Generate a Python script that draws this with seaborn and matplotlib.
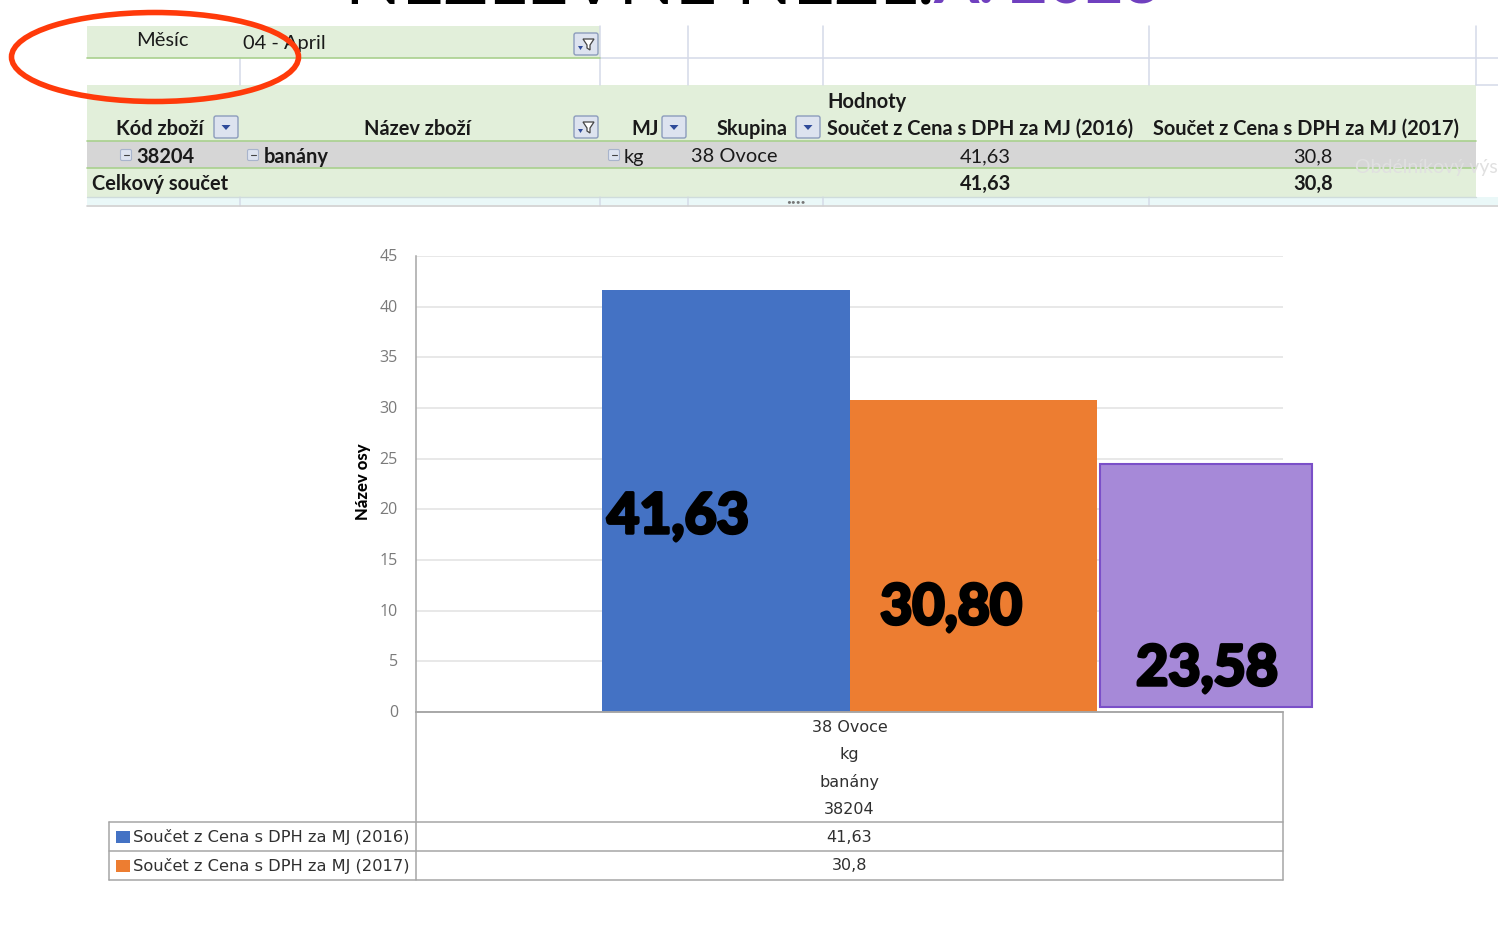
import numpy as np
import pandas as pd
import matplotlib
matplotlib.use('Agg')
import matplotlib.pyplot as plt
import matplotlib.patheffects as pe
from matplotlib.transforms import ScaledTranslation
from matplotlib.patches import Ellipse, FancyBboxPatch, Rectangle, Polygon
import seaborn as sns

# chart values
serie = ['Součet z Cena s DPH za MJ (2016)', 'Součet z Cena s DPH za MJ (2017)']
ceny = [41.63, 30.8]
skupina = '38 Ovoce'
cena_2018 = [23.58]
y_ticks = [0, 5, 10, 15, 20, 25, 30, 35, 40, 45]
osa_x = ['38 Ovoce', 'kg', 'banány', '38204']
tabulka = ['41,63', '30,8']
popisky = ['41,63', '30,80', '23,58']

W, H = 1498, 938
modra, oranz, fialova = '#4472C4', '#ED7D31', '#A689D8'

sns.set_theme(style='white')
plt.rcParams['font.family'] = ['Lato', 'DejaVu Sans']
txt = '#1a1a1a'

fig = plt.figure(figsize=(W / 100, H / 100), dpi=100, facecolor='white')


def ax_px(l, t, r, b, **kw):
    return fig.add_axes([l / W, 1 - b / H, (r - l) / W, (b - t) / H], **kw)


# background layer in pixels of the picture, for the pasted pivot table
bg = ax_px(0, 0, W, H, zorder=0)
bg.set_xlim(0, W)
bg.set_ylim(H, 0)
bg.axis('off')

mriz = '#D5DAE8'
for x, y0, y1 in [(240, 58, 85), (600, 26, 85), (688, 26, 85), (823, 26, 85), (1149, 26, 85), (1476, 26, 85),
                  (240, 197, 206), (600, 197, 206), (688, 197, 206), (823, 197, 206), (1149, 197, 206)]:
    bg.plot([x, x], [y0, y1], color=mriz, lw=1.1)
bg.plot([600, W], [58, 58], color=mriz, lw=1.1)
bg.plot([1476, W], [85, 85], color=mriz, lw=1.1)
bg.add_patch(Rectangle((87, 197), W - 87, 8, color='#EAF8F8', lw=0))
bg.add_patch(Rectangle((87, 26), 513, 32, color='#E2EFDA', lw=0))
bg.add_patch(Rectangle((87, 85), 1389, 56, color='#E2EFDA', lw=0))
bg.add_patch(Rectangle((87, 141), 1389, 27, color='#D6D6D6', lw=0))
bg.add_patch(Rectangle((87, 168), 1389, 29, color='#E2EFDA', lw=0))
for y, x1 in [(58, 600), (141, 1476), (168, 1476)]:
    bg.plot([87, x1], [y, y], color='#A9D08E', lw=1.2)
bg.plot([87, W], [206, 206], color='#D0D0D0', lw=1.2)
bg.plot([87, 1476], [197.5, 197.5], color='#CFDCDC', lw=1)


def tlacitko(x, y, w, h, filtr=False):
    bg.add_patch(FancyBboxPatch((x + 1, y + 1), w - 2, h - 2, boxstyle='round,pad=1,rounding_size=2',
                                fc='#DDE3EF', ec='#8C9CBC', lw=1))
    if filtr:
        bg.add_patch(Polygon([[x + w - 15, y + 6], [x + w - 4, y + 6], [x + w - 8, y + 12], [x + w - 8, y + h - 5],
                              [x + w - 11, y + h - 7], [x + w - 11, y + 12]], fc='white', ec='#444444', lw=0.9))
        bg.add_patch(Polygon([[x + 4, y + h - 9], [x + 9, y + h - 9], [x + 6.5, y + h - 5]], fc='#2F4B9A', lw=0))
    else:
        bg.add_patch(Polygon([[x + w / 2 - 4.5, y + h / 2 - 2], [x + w / 2 + 4.5, y + h / 2 - 2],
                              [x + w / 2, y + h / 2 + 3]], fc='#2F4B9A', lw=0))


tlacitko(574, 33, 24, 22, True)
tlacitko(214, 116, 24, 22)
tlacitko(574, 116, 24, 22, True)
tlacitko(662, 116, 24, 22)
tlacitko(796, 116, 24, 22)


def minus(x, y):
    bg.add_patch(FancyBboxPatch((x, y), 10, 10, boxstyle='round,pad=0.5,rounding_size=1.5',
                                fc='#DDE3EF', ec='#A8B4CC', lw=0.8))
    bg.plot([x + 2.5, x + 7.5], [y + 5, y + 5], color='#444444', lw=0.8)


minus(121, 150)
minus(248, 150)
minus(609, 150)

fs = 14.4
for x, y, s, ha, w in [
    (136, 41, 'Měsíc', 'left', 'normal'),
    (243, 44, '04 - April', 'left', 'normal'),
    (827, 102, 'Hodnoty', 'left', 'bold'),
    (116, 129, 'Kód zboží', 'left', 'bold'),
    (364, 129, 'Název zboží', 'left', 'bold'),
    (631, 129, 'MJ', 'left', 'bold'),
    (717, 129, 'Skupina', 'left', 'bold'),
    (827, 129, serie[0], 'left', 'bold'),
    (1153, 129, serie[1], 'left', 'bold'),
    (136, 157, '38204', 'left', 'bold'),
    (264, 157, 'banány', 'left', 'bold'),
    (624, 157, 'kg', 'left', 'normal'),
    (691, 157, '38 Ovoce', 'left', 'normal'),
    (1011, 157, tabulka[0], 'right', 'normal'),
    (1333, 157, tabulka[1], 'right', 'normal'),
    (92, 184, 'Celkový součet', 'left', 'bold'),
    (1011, 184, tabulka[0], 'right', 'bold'),
    (1333, 184, tabulka[1], 'right', 'bold'),
]:
    bg.text(x, y, s, ha=ha, va='center', fontsize=fs, fontweight=w, color=txt)
bg.text(1355, 168, 'Obdélníkový výstřižek', ha='left', va='center', fontsize=14, color='#E0E0E0')
bg.text(796, 201.5, '••••', ha='center', va='center', fontsize=6, color='#777777')

# cut off title at the very top of the picture, only the feet of the letters show
# (the wording can't be read from the picture, this is a best guess)
bg.text(345, 3, 'NEZLEVNE NEZL.', ha='left', va='baseline', fontsize=53, color='black', clip_on=False)
bg.text(933, 3, 'A. 2023', ha='left', va='baseline', fontsize=47, fontweight='bold', color='#7040BF', clip_on=False)

# the chart
ax = ax_px(416, 256, 1283, 712, zorder=1)
ax.patch.set_alpha(0)
df = pd.DataFrame({'skupina': [skupina] * 2, 'serie': serie, 'cena': ceny})
sns.barplot(data=df, x='skupina', y='cena', hue='serie', palette=[modra, oranz], saturation=1,
            width=0.571, gap=0, legend=False, linewidth=0, ax=ax)
ax.set_xlim(-0.5, 0.5)
ax.set_ylim(0, 45)
ax.set_yticks(y_ticks)
ax.set_xticks([])
ax.set_xlabel('')
ax.set_ylabel('Název osy', fontsize=12, fontweight='black', color='black', va='center')
ax.yaxis.set_label_coords(-0.061, 0.505)
ax.tick_params(axis='y', length=0, pad=13, labelsize=11.5, labelcolor='#7A7A7A')
for t in ax.get_yticklabels():
    t.set_fontfamily('Open Sans')
    t.set_transform(t.get_transform() + ScaledTranslation(0, 1 / 100, fig.dpi_scale_trans))
ax.grid(axis='y', color='#E2E2E2', lw=1.1)
ax.set_axisbelow(True)
for s in ['top', 'right']:
    ax.spines[s].set_visible(False)
for s in ['left', 'bottom']:
    ax.spines[s].set_color('#A6A6A6')
    ax.spines[s].set_linewidth(1.1)

# pasted purple box over the chart
ax2 = ax_px(1100, 464, 1312, 707, zorder=2)
sns.barplot(x=['2018'], y=cena_2018, color=fialova, saturation=1, width=1, edgecolor='#7A4FC8', linewidth=1.5,
            clip_on=False, ax=ax2)
ax2.set_xlim(-0.5, 0.5)
ax2.set_ylim(0, cena_2018[0])
ax2.axis('off')

# top layer
top = ax_px(0, 0, W, H, zorder=3)
top.set_xlim(0, W)
top.set_ylim(H, 0)
top.axis('off')
top.patch.set_alpha(0)

for s, x, y in zip(popisky, [678, 951, 1207], [517, 608, 669]):
    top.text(x, y, s, ha='center', va='center', fontsize=40, fontweight='bold', color='black',
             path_effects=[pe.withStroke(linewidth=2.5, foreground='black')])

linka = '#A6A6A6'
for x0, x1, y in [(416, 1283, 712), (109, 1283, 822), (109, 1283, 851), (109, 1283, 880)]:
    top.plot([x0, x1], [y, y], color=linka, lw=1.1)
for x, y0, y1 in [(109, 822, 880), (416, 712, 880), (1283, 712, 880)]:
    top.plot([x, x], [y0, y1], color=linka, lw=1.1)
for s, y in zip(osa_x, [727, 755, 782, 809]):
    top.text(849.5, y, s, ha='center', va='center', fontsize=11.5, color='#303030', family='DejaVu Sans')
for s, h, c, y in zip(serie, tabulka, [modra, oranz], [837, 866]):
    top.add_patch(Rectangle((116, y - 6), 14, 12, color=c, lw=0))
    top.text(133, y, s, ha='left', va='center', fontsize=11.7, color='#303030', family='DejaVu Sans')
    top.text(849.5, y, h, ha='center', va='center', fontsize=11.5, color='#303030', family='DejaVu Sans')

top.add_patch(Ellipse((155, 57), 287, 89, fc='none', ec='#FF3A0A', lw=4))

fig.savefig('out.png', dpi=100)
